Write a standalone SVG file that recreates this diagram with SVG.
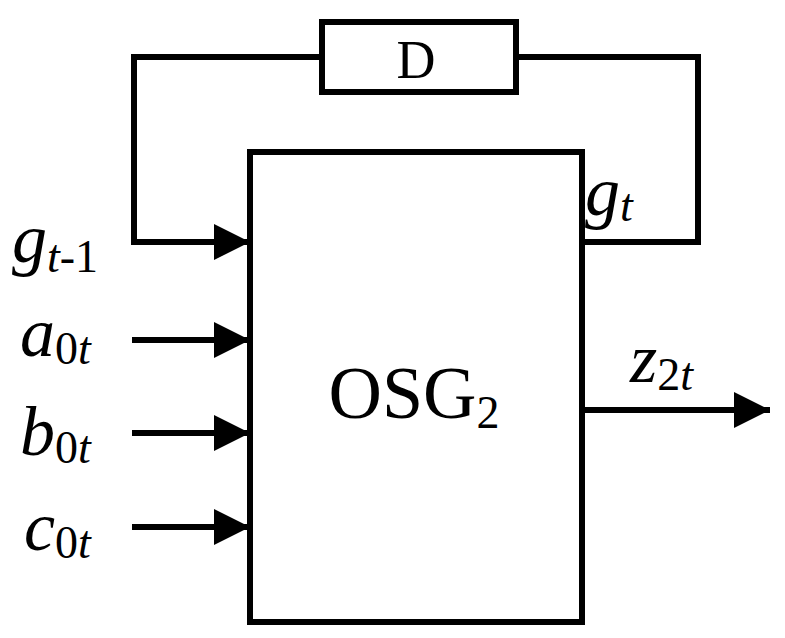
<svg xmlns="http://www.w3.org/2000/svg" width="785" height="638" viewBox="0 0 785 638">
<style>
.l{fill:none;stroke:#000;stroke-width:6}
text{font-family:"Liberation Serif",serif;fill:#000}
.i{font-style:italic}
</style>
<defs><marker id="a" markerUnits="userSpaceOnUse" markerWidth="40" markerHeight="40" refX="36" refY="18" orient="auto"><path d="M0,0 L36,18 L0,36 Z" fill="#000"/></marker></defs>
<rect width="785" height="638" fill="#fff"/>
<g id="connectors">
<polyline class="l" points="582,242 698,242 698,57 516,57"/>
<polyline class="l" points="322,57 134,57 134,242 250,242" marker-end="url(#a)"/>
<line class="l" x1="132" y1="340" x2="250" y2="340" marker-end="url(#a)"/>
<line class="l" x1="132" y1="433" x2="250" y2="433" marker-end="url(#a)"/>
<line class="l" x1="132" y1="527" x2="250" y2="527" marker-end="url(#a)"/>
<line class="l" x1="582" y1="410" x2="770" y2="410" marker-end="url(#a)"/>
</g>
<g id="osg"><rect class="l" x="250" y="152" width="332" height="470"/>
<text x="414" y="418" font-size="74" text-anchor="middle">OSG<tspan font-size="46" dy="10">2</tspan></text></g>
<g id="d"><rect class="l" x="322" y="22" width="194" height="70"/>
<text x="416" y="78" font-size="54" text-anchor="middle">D</text></g>
<g id="labels" font-size="70">
<text x="585" y="215" class="i">g<tspan font-size="46" dy="6">t</tspan></text>
<text x="12" y="262"><tspan class="i">g</tspan><tspan font-size="46" dy="10"><tspan class="i">t</tspan>-1</tspan></text>
<text x="20" y="356"><tspan class="i">a</tspan><tspan font-size="46" dy="8">0<tspan class="i">t</tspan></tspan></text>
<text x="20" y="455"><tspan class="i">b</tspan><tspan font-size="46" dy="8">0<tspan class="i">t</tspan></tspan></text>
<text x="24" y="550"><tspan class="i">c</tspan><tspan font-size="46" dy="8">0<tspan class="i">t</tspan></tspan></text>
<text x="630" y="382"><tspan class="i">z</tspan><tspan font-size="46" dy="8">2<tspan class="i">t</tspan></tspan></text>
</g>
</svg>
